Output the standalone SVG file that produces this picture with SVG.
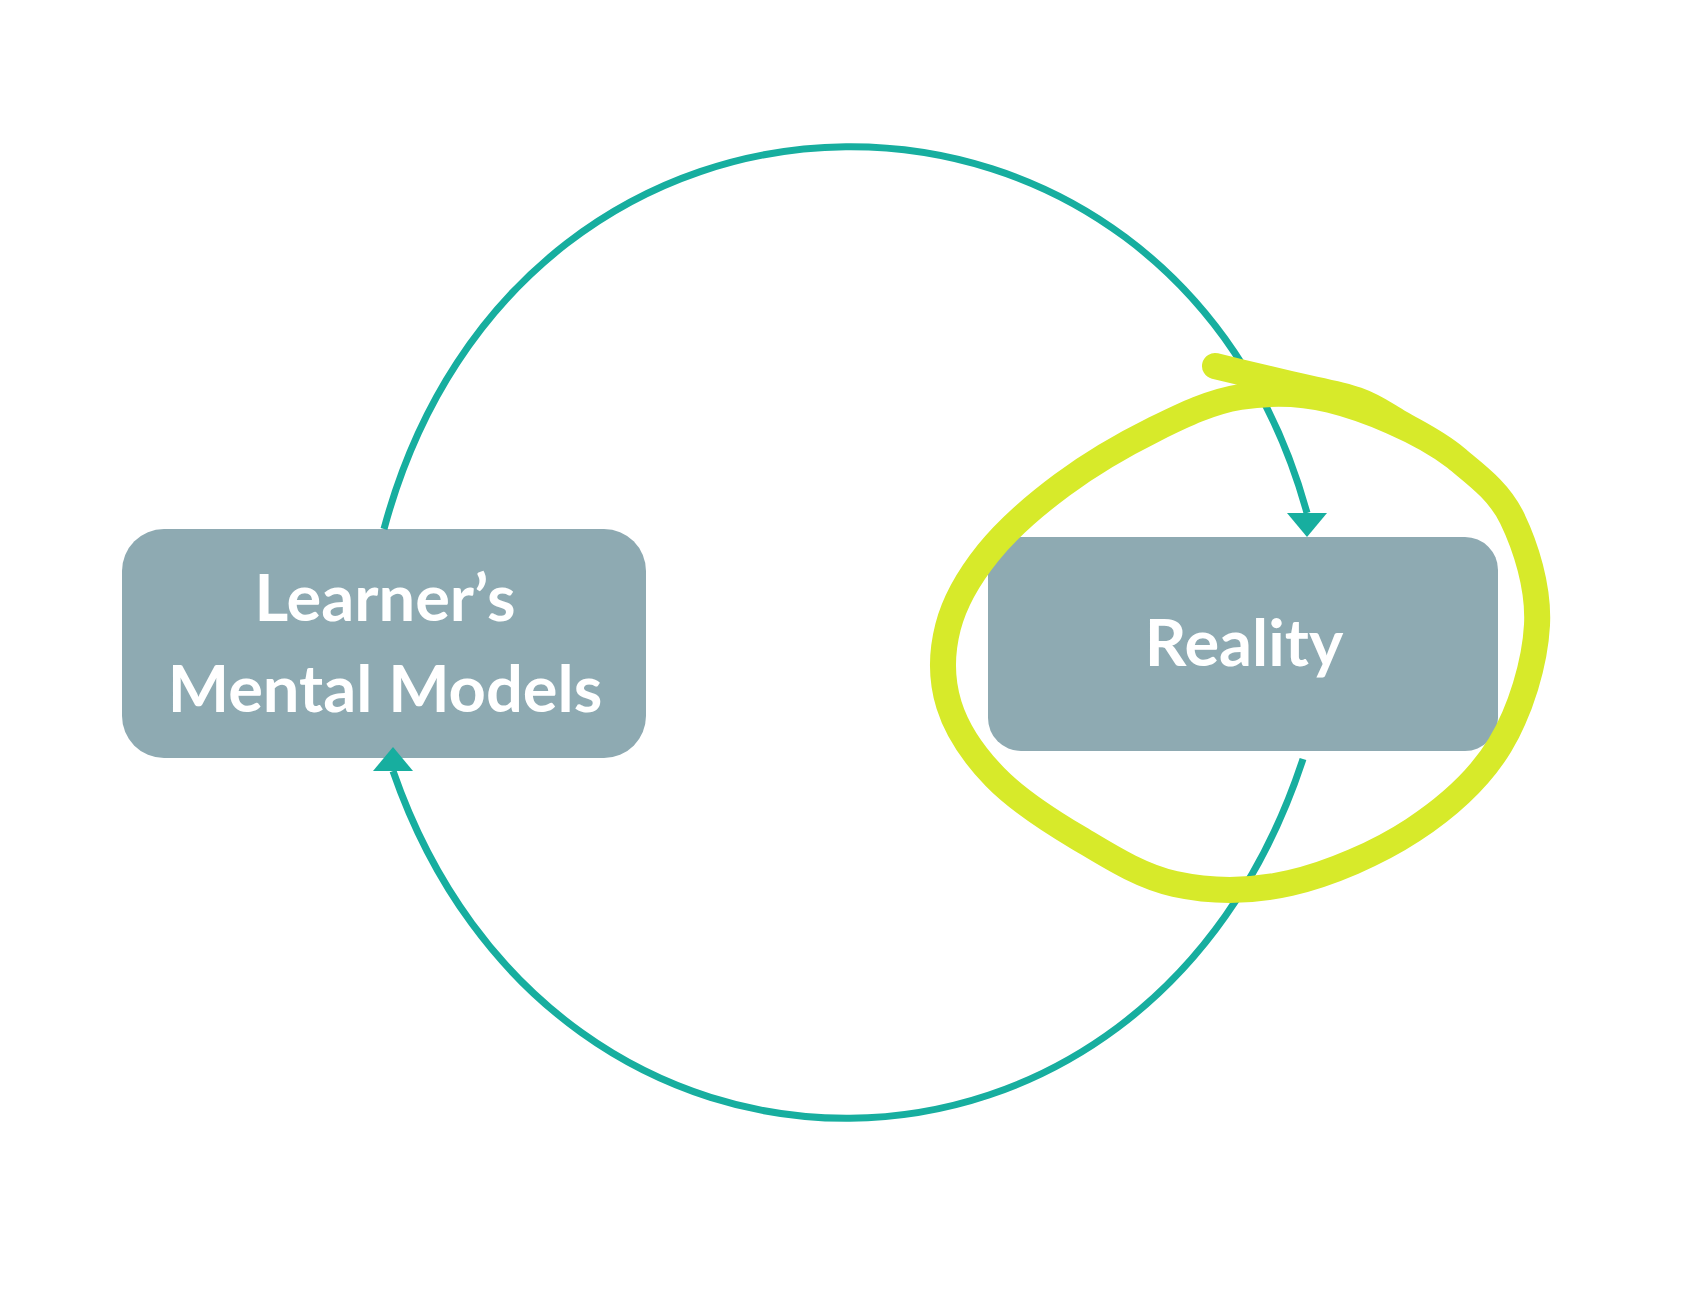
<svg xmlns="http://www.w3.org/2000/svg" width="1682" height="1292" viewBox="0 0 1682 1292">
  <style>
    .box { fill: #8eaab2; }
    .label { fill: #ffffff; font-family: "Lato", "Liberation Sans", sans-serif; font-weight: 700; font-size: 65px; text-anchor: middle; }
    .conn { fill: none; stroke: #17ae9f; stroke-width: 7; stroke-linecap: butt; }
    .loop { fill: none; stroke: #d7ea2a; stroke-width: 26; stroke-linecap: round; stroke-linejoin: round; }
  </style>
  <defs>
    <marker id="arrDown" markerUnits="userSpaceOnUse" markerWidth="44" markerHeight="28" viewBox="-22 -2 44 28" refX="0" refY="0" orient="0">
      <path d="M-20,0 L20,0 L0,24 Z" fill="#17ae9f"/>
    </marker>
    <marker id="arrUp" markerUnits="userSpaceOnUse" markerWidth="44" markerHeight="28" viewBox="-22 -2 44 28" refX="0" refY="0" orient="180">
      <path d="M-20,0 L20,0 L0,24 Z" fill="#17ae9f"/>
    </marker>
  </defs>
  <rect width="1682" height="1292" fill="#ffffff"/>

  <g id="node-learner">
    <rect class="box" x="122" y="529" width="524" height="229" rx="42" ry="42"/>
    <text class="label" x="385" y="621">Learner’s</text>
    <text class="label" x="385" y="712">Mental Models</text>
  </g>

  <g id="node-reality">
    <rect class="box" x="988" y="537" width="510" height="214" rx="33" ry="33"/>
    <text class="label" x="1244" y="666">Reality</text>
  </g>

  <g id="connectors">
    <path class="conn" d="M384,529 C520,22 1172,22 1307,513" marker-end="url(#arrDown)"/>
    <path class="conn" d="M1303,759 C1147,1236 554,1236 393,771" marker-end="url(#arrUp)"/>
  </g>

  <g id="highlight-loop">
    <path class="loop" d="M1215,366 C1240,372 1266.3,378.3 1290,384 C1313.7,389.7 1338.7,393.5 1357,400 C1375.3,406.5 1383.5,413.3 1400,423 C1416.5,432.7 1437.3,442.2 1456,458 C1474.7,473.8 1498.5,490.2 1512,518 C1525.5,545.8 1539,587.2 1537,625 C1535,662.8 1520.7,710.8 1500,745 C1479.3,779.2 1448,807 1413,830 C1378,853 1329.7,874 1290,883 C1250.3,892 1210.5,891.7 1175,884 C1139.5,876.3 1107,854.8 1077,837 C1047,819.2 1016.3,799 995,777 C973.7,755 956.8,730 949,705 C941.2,680 941.5,652.3 948,627 C954.5,601.7 969,576.7 988,553 C1007,529.3 1034.2,505.7 1062,485 C1089.8,464.3 1125.3,443.7 1155,429 C1184.7,414.3 1210.8,401.8 1240,397 C1269.2,392.2 1296.7,391.8 1330,400 C1363.3,408.2 1420,430 1456,458"/>
  </g>
</svg>
